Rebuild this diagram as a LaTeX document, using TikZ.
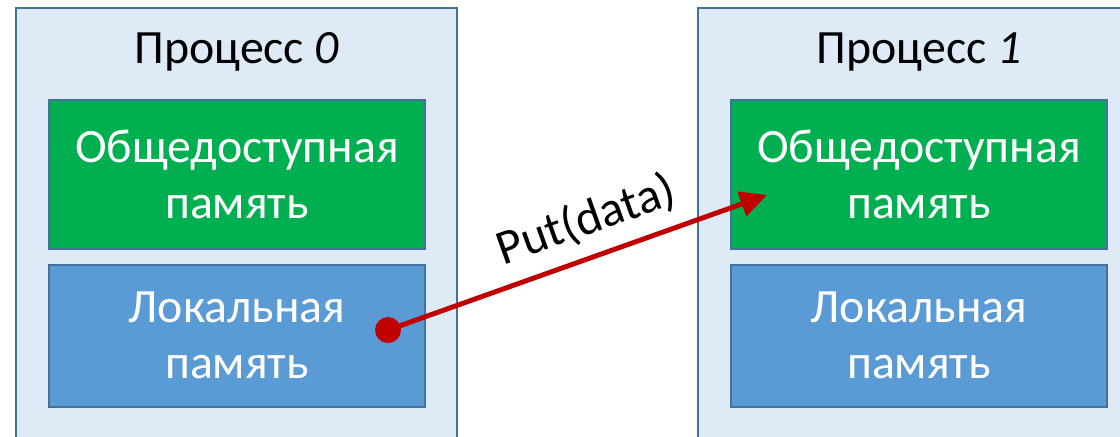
\documentclass[tikz,border=0pt]{standalone}
\usepackage{fontspec}
\setmainfont{Carlito}
\usetikzlibrary{arrows.meta, positioning}
\definecolor{procfill}{RGB}{222, 235, 247}
\definecolor{procline}{RGB}{65, 113, 156}
\definecolor{sharedgreen}{RGB}{0, 176, 80}
\definecolor{localblue}{RGB}{91, 155, 213}
\definecolor{putred}{RGB}{192, 0, 0}

\begin{document}
\begin{tikzpicture}[
    proc/.style={draw=procline, line width=1.4pt, fill=procfill,
        minimum width=11.025cm, minimum height=11.55cm, inner sep=0pt},
    mem/.style={draw=procline, line width=1.2pt, minimum width=9.4cm,
        text=white, align=center, inner sep=0pt,
        font=\fontsize{34}{40}\selectfont},
    sharedmem/.style={mem, fill=sharedgreen, minimum height=3.725cm},
    localmem/.style={mem, fill=localblue, minimum height=3.55cm},
    proctitle/.style={anchor=base, font=\fontsize{34}{40}\selectfont}
]
    \clip (0,0) rectangle (28,10.9);
    % Процесс 0
    \node[proc] (p0) at (5.9125,4.925) {};
    \node[proctitle] (t0) at (5.925,9.325) {Процесс \textit{0}};
    \node[sharedmem] (s0) at (5.925,6.5375) {Общедоступная\\память};
    \node[localmem, below=0.35cm of s0] (l0) {Локальная\\память};
    % Процесс 1
    \node[proc] (p1) at (22.9625,4.925) {};
    \node[proctitle] (t1) at (22.975,9.325) {Процесс \textit{1}};
    \node[sharedmem] (s1) at (22.975,6.5375) {Общедоступная\\память};
    \node[localmem, below=0.35cm of s1] (l1) {Локальная\\память};
    % Put(data): из локальной памяти 0 в общую память 1
    \node[circle, fill=putred, minimum size=0.65cm, inner sep=0pt] (src) at (9.7,2.65) {};
    \coordinate (tgt) at (19.175,6.025);
    \draw[putred, line width=3.5pt, -{Triangle[length=19pt, width=18pt]}]
        (src.center) -- node[pos=0.555, sloped, above=6pt, text=black,
        font=\fontsize{35}{40}\selectfont] (put) {Put(data)} (tgt);
\end{tikzpicture}
\end{document}
